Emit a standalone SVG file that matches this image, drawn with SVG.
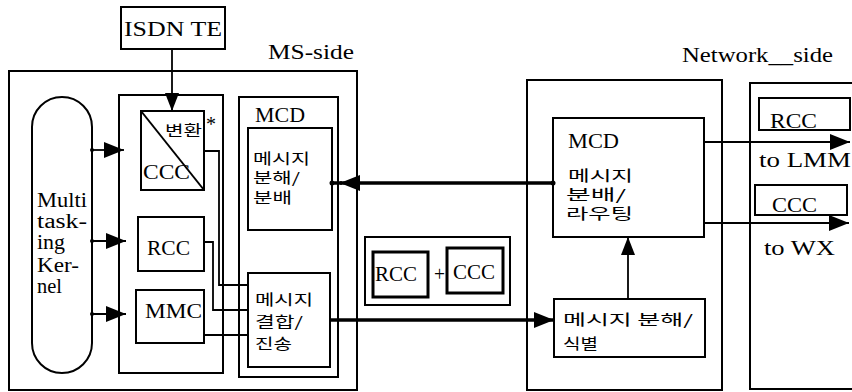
<svg xmlns="http://www.w3.org/2000/svg" width="852" height="392" viewBox="0 0 852 392">
<style>
.b{fill:none;stroke:#000;stroke-width:2}
.bt{fill:none;stroke:#000;stroke-width:3}
.c{fill:none;stroke:#000;stroke-width:1.8}
.ct{fill:none;stroke:#000;stroke-width:3.5}
.t{font-family:"Liberation Serif","Noto Sans CJK KR",serif;font-size:20px;fill:#000}
.k{font-family:"Noto Sans CJK KR","Liberation Serif",sans-serif;font-size:14.5px;fill:#000}
</style>
<defs>
<marker id="ah" viewBox="0 0 20 16" refX="20" refY="8" markerWidth="20" markerHeight="16" markerUnits="userSpaceOnUse" orient="auto">
<path d="M0,0 L20,8 L0,16 z" fill="#000"/>
</marker>
<marker id="ahs" viewBox="0 0 18 14" refX="18" refY="7" markerWidth="18" markerHeight="14" markerUnits="userSpaceOnUse" orient="auto">
<path d="M0,0 L18,7 L0,14 z" fill="#000"/>
</marker>
</defs>
<rect width="852" height="392" fill="#fff"/>

<g id="ms-side">
<rect class="b" x="9" y="71" width="348" height="319"/>
<text class="t" x="268" y="59" textLength="86" lengthAdjust="spacingAndGlyphs">MS-side</text>
</g>
<g id="isdn-te">
<rect class="b" x="121" y="7" width="104" height="42"/>
<text class="t" x="124" y="36" textLength="98" lengthAdjust="spacingAndGlyphs">ISDN TE</text>
</g>
<g id="kernel">
<rect class="b" x="32" y="97" width="60" height="276" rx="30" ry="30"/>
<text class="t" x="37" y="207" textLength="50" lengthAdjust="spacingAndGlyphs">Multi</text>
<text class="t" x="37" y="228" textLength="50" lengthAdjust="spacingAndGlyphs">task-</text>
<text class="t" x="37" y="249" textLength="28" lengthAdjust="spacingAndGlyphs">ing</text>
<text class="t" x="37" y="272" textLength="42" lengthAdjust="spacingAndGlyphs">Ker-</text>
<text class="t" x="37" y="293" textLength="25" lengthAdjust="spacingAndGlyphs">nel</text>
</g>
<g id="control-box">
<rect class="b" x="119" y="95" width="104" height="278"/>
</g>
<g id="ccc">
<rect class="b" x="141" y="111" width="63" height="79"/>
<line class="b" x1="141" y1="111" x2="204" y2="190"/>
<text class="k" x="165" y="136" textLength="37" lengthAdjust="spacingAndGlyphs">변환</text>
<text class="t" x="206" y="131" font-size="11">*</text>
<text class="t" x="143" y="179" textLength="47" lengthAdjust="spacingAndGlyphs">CCC</text>
</g>
<g id="rcc">
<rect class="b" x="138" y="217" width="66" height="54"/>
<text class="t" x="147" y="255" textLength="43" lengthAdjust="spacingAndGlyphs">RCC</text>
</g>
<g id="mmc">
<rect class="b" x="136" y="290" width="68" height="53"/>
<text class="t" x="145" y="318" textLength="57" lengthAdjust="spacingAndGlyphs">MMC</text>
</g>
<g id="ms-mcd">
<rect class="b" x="239" y="97" width="99" height="280"/>
<text class="t" x="255" y="122" textLength="50" lengthAdjust="spacingAndGlyphs">MCD</text>
</g>
<g id="ms-decompose">
<rect class="b" x="248" y="128" width="84" height="102"/>
<text class="k" x="253" y="164" textLength="57" lengthAdjust="spacingAndGlyphs">메시지</text>
<text class="k" x="253" y="183" textLength="47" lengthAdjust="spacingAndGlyphs">분해/</text>
<text class="k" x="253" y="203" textLength="39" lengthAdjust="spacingAndGlyphs">분배</text>
</g>
<g id="ms-combine">
<rect class="b" x="248" y="273" width="82" height="94"/>
<text class="k" x="255" y="305" textLength="58" lengthAdjust="spacingAndGlyphs">메시지</text>
<text class="k" x="255" y="327" textLength="48" lengthAdjust="spacingAndGlyphs">결합/</text>
<text class="k" x="255" y="349" textLength="37" lengthAdjust="spacingAndGlyphs">진송</text>
</g>
<g id="rcc-ccc">
<rect class="b" x="365" y="237" width="145" height="68"/>
<rect class="bt" x="373" y="252" width="55" height="45"/>
<rect class="bt" x="447" y="248" width="56" height="45"/>
<text class="t" x="375" y="281" textLength="42" lengthAdjust="spacingAndGlyphs">RCC</text>
<text class="t" x="434" y="281" textLength="11" lengthAdjust="spacingAndGlyphs">+</text>
<text class="t" x="453" y="279" textLength="42" lengthAdjust="spacingAndGlyphs">CCC</text>
</g>
<g id="network-side">
<rect class="b" x="527" y="80" width="195" height="310"/>
<text class="t" x="682" y="62" textLength="151" lengthAdjust="spacingAndGlyphs">Network__side</text>
</g>
<g id="net-mcd">
<rect class="b" x="553" y="118" width="151" height="119"/>
<text class="t" x="568" y="148" font-size="19" textLength="51" lengthAdjust="spacingAndGlyphs">MCD</text>
<text class="k" x="568" y="181" textLength="65" lengthAdjust="spacingAndGlyphs">메시지</text>
<text class="k" x="566" y="200" textLength="60" lengthAdjust="spacingAndGlyphs">분배/</text>
<text class="k" x="566" y="219" textLength="67" lengthAdjust="spacingAndGlyphs">라우팅</text>
</g>
<g id="net-decompose">
<rect class="b" x="554" y="299" width="151" height="58"/>
<text class="k" x="563" y="325" textLength="130" lengthAdjust="spacingAndGlyphs">메시지 분해/</text>
<text class="k" x="563" y="349" textLength="35" lengthAdjust="spacingAndGlyphs">식별</text>
</g>
<g id="right-side">
<rect class="b" x="750" y="83" width="120" height="306"/>
</g>
<g id="right-rcc">
<rect class="b" x="759" y="98" width="91" height="32"/>
<text class="t" x="770" y="128" textLength="47" lengthAdjust="spacingAndGlyphs">RCC</text>
</g>
<g id="right-ccc">
<rect class="b" x="755" y="185" width="92" height="30"/>
<text class="t" x="772" y="212" textLength="45" lengthAdjust="spacingAndGlyphs">CCC</text>
</g>
<g id="labels">
<text class="t" x="759" y="167" font-size="19" textLength="92" lengthAdjust="spacingAndGlyphs">to LMM</text>
<text class="t" x="764" y="255" font-size="19" textLength="71" lengthAdjust="spacingAndGlyphs">to WX</text>
</g>

<g id="connectors">
<line class="c" x1="172" y1="49" x2="172" y2="111" marker-end="url(#ahs)"/>
<line class="c" x1="92" y1="150" x2="124" y2="150" marker-end="url(#ah)"/>
<line class="c" x1="92" y1="241" x2="126" y2="241" marker-end="url(#ah)"/>
<line class="c" x1="92" y1="314" x2="126" y2="314" marker-end="url(#ah)"/>
<circle cx="92" cy="150" r="2"/>
<circle cx="92" cy="241" r="2"/>
<circle cx="92" cy="314" r="2"/>
<path class="c" d="M204,151 H219 V285 H248"/>
<path class="c" d="M204,242 H213 V310 H248"/>
<path class="c" d="M204,335 H248"/>
<line class="ct" x1="553" y1="183" x2="340" y2="183" marker-end="url(#ah)"/>
<line class="ct" x1="342" y1="183" x2="332" y2="183"/>
<circle cx="332" cy="183" r="2.5"/>
<circle cx="553" cy="183" r="2.5"/>
<line class="ct" x1="330" y1="320" x2="554" y2="320" marker-end="url(#ah)"/>
<line class="c" x1="628" y1="299" x2="628" y2="237" marker-end="url(#ahs)"/>
<line class="c" x1="704" y1="142" x2="850" y2="142" marker-end="url(#ah)"/>
<line class="c" x1="704" y1="223" x2="849" y2="223" marker-end="url(#ah)"/>
</g>
</svg>
